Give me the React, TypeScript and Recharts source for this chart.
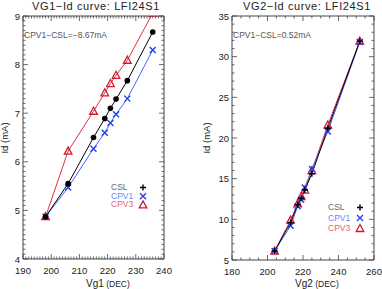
import { LineChart, Line, XAxis, YAxis, Customized } from 'recharts';

// VG1 sweep
const vg1 = [198, 206, 215, 219, 221, 223, 227, 236];
const vg1Csl = [4.87, 5.55, 6.5, 6.89, 7.1, 7.29, 7.67, 8.67];
const vg1Cpv1 = [4.87, 5.47, 6.27, 6.6, 6.8, 6.98, 7.3, 8.3];
const vg1Cpv3 = [4.87, 6.22, 7.04, 7.42, 7.61, 7.78, 8.09, 9.06];

// VG2 sweep
const vg2 = [204, 213, 217, 219, 221, 225, 234, 252];
const vg2Csl = [6.1, 9.6, 11.8, 12.6, 13.6, 15.6, 21.2, 31.9];
const vg2Cpv1 = [6.1, 9.2, 11.6, 12.4, 13.9, 16.2, 20.8, 31.8];
const vg2Cpv3 = [6.1, 9.9, 11.9, 12.8, 13.6, 16.0, 21.6, 31.9];

const vg1XTicks = Array.from({ length: 51 }, (_, i) => 190 + i);
const vg1XLabels = [190, 200, 210, 220, 230, 240];
const vg1YTicks = Array.from({ length: 51 }, (_, i) => Math.round((4 + i * 0.1) * 10) / 10);
const vg1YLabels = [4, 5, 6, 7, 8, 9];
const vg2XTicks = Array.from({ length: 17 }, (_, i) => 180 + i * 5);
const vg2XLabels = [180, 200, 220, 240, 260];
const vg2YTicks = Array.from({ length: 31 }, (_, i) => 5 + i);
const vg2YLabels = [5, 10, 15, 20, 25, 30, 35];

const FONT = '"Liberation Sans", Arial, sans-serif';
const AXIS = '#444';
const BLUE_LINE = '#4a64ff';
const RED_LINE = '#e0303e';
const BLUE_MK = '#2040f0';
const RED_MK = '#d01830';

const zip = (xs: number[], a: number[], b: number[], c: number[]) =>
  xs.map((x, i) => ({ x, csl: a[i], cpv1: b[i], cpv3: c[i] }));

const data1 = zip(vg1, vg1Csl, vg1Cpv1, vg1Cpv3);
const data2 = zip(vg2, vg2Csl, vg2Cpv1, vg2Cpv3);

function makeTick(side: 'bottom' | 'top' | 'left' | 'right', labels: number[], showLabel: boolean) {
  return (props: any) => {
    const { x, y, payload } = props;
    const v = payload.value;
    const major = labels.includes(v);
    const len = major ? 5 : 2.5;
    let line;
    if (side === 'bottom') line = <line x1={x} x2={x} y1={y} y2={y - len} />;
    else if (side === 'top') line = <line x1={x} x2={x} y1={y} y2={y + len} />;
    else if (side === 'left') line = <line x1={x} x2={x + len} y1={y} y2={y} />;
    else line = <line x1={x} x2={x - len} y1={y} y2={y} />;
    return (
      <g stroke={AXIS} strokeWidth={0.8}>
        {line}
        {showLabel && major && side === 'bottom' && (
          <text x={x} y={y + 15} textAnchor="middle" stroke="none" fill="#222" fontSize={9.5} fontFamily={FONT}>
            {v}
          </text>
        )}
        {showLabel && major && side === 'left' && (
          <text x={x - 3} y={y + 3.5} textAnchor="end" stroke="none" fill="#222" fontSize={9.5} fontFamily={FONT}>
            {v}
          </text>
        )}
      </g>
    );
  };
}

const Circle = (p: any) => <circle key={p.key} cx={p.cx} cy={p.cy} r={2.8} fill="#000" />;
const Plus = (p: any) => (
  <path key={p.key} d={`M${p.cx - 3},${p.cy}h6M${p.cx},${p.cy - 3}v6`} stroke="#000" strokeWidth={1.4} />
);
const Cross = (p: any) => (
  <path
    key={p.key}
    d={`M${p.cx - 3},${p.cy - 3}l6,6M${p.cx - 3},${p.cy + 3}l6,-6`}
    stroke={BLUE_MK}
    strokeWidth={1.4}
    fill="none"
  />
);
const Tri = (p: any) => (
  <path
    key={p.key}
    d={`M${p.cx},${p.cy - 4}L${p.cx + 3.8},${p.cy + 3}L${p.cx - 3.8},${p.cy + 3}Z`}
    stroke={RED_MK}
    strokeWidth={1.3}
    fill="none"
  />
);

function LegendBlock({ x, y, gap }: { x: number; y: number; gap: number }) {
  const rows = [
    { name: 'CSL', color: '#666', Mk: Plus },
    { name: 'CPV1', color: '#6f7fff', Mk: Cross },
    { name: 'CPV3', color: '#e8606e', Mk: Tri },
  ];
  return (
    <g>
      {rows.map((r, i) => (
        <g key={r.name}>
          <text x={x} y={y + i * gap + 3} fontSize={8.5} fontFamily={FONT} fill={r.color}>
            {r.name}
          </text>
          {r.Mk({ key: r.name, cx: x + 32, cy: y + i * gap + 0.5 })}
        </g>
      ))}
    </g>
  );
}

function Panel(props: {
  data: any[];
  width: number;
  margin: any;
  xDomain: [number, number];
  yDomain: [number, number];
  xTicks: number[];
  xLabels: number[];
  yTicks: number[];
  yLabels: number[];
  title: string;
  titleX: number;
  xName: string;
  xNameX: number;
  yNameX: number;
  note: string;
  legendX: number;
  legendY: number;
  legendGap: number;
  cslDot: any;
}) {
  const p = props;
  return (
    <LineChart width={p.width} height={289} data={p.data} margin={p.margin}>
      <XAxis
        xAxisId="b"
        dataKey="x"
        type="number"
        domain={p.xDomain}
        ticks={p.xTicks}
        interval={0}
        height={1}
        tickSize={0}
        tickMargin={0}
        stroke={AXIS}
        tick={makeTick('bottom', p.xLabels, true)}
        allowDataOverflow
      />
      <XAxis
        xAxisId="t"
        orientation="top"
        dataKey="x"
        type="number"
        domain={p.xDomain}
        ticks={p.xTicks}
        interval={0}
        height={1}
        tickSize={0}
        tickMargin={0}
        stroke={AXIS}
        tick={makeTick('top', p.xLabels, false)}
        allowDataOverflow
      />
      <YAxis
        yAxisId="l"
        type="number"
        domain={p.yDomain}
        ticks={p.yTicks}
        interval={0}
        width={1}
        tickSize={0}
        tickMargin={0}
        stroke={AXIS}
        tick={makeTick('left', p.yLabels, true)}
        allowDataOverflow
      />
      <YAxis
        yAxisId="r"
        orientation="right"
        type="number"
        domain={p.yDomain}
        ticks={p.yTicks}
        interval={0}
        width={1}
        tickSize={0}
        tickMargin={0}
        stroke={AXIS}
        tick={makeTick('right', p.yLabels, false)}
        allowDataOverflow
      />
      <Line xAxisId="b" yAxisId="l" dataKey="cpv3" stroke={RED_LINE} strokeWidth={1} dot={Tri} isAnimationActive={false} />
      <Line xAxisId="b" yAxisId="l" dataKey="cpv1" stroke={BLUE_LINE} strokeWidth={1} dot={Cross} isAnimationActive={false} />
      <Line xAxisId="b" yAxisId="l" dataKey="csl" stroke="#000" strokeWidth={1} dot={p.cslDot} isAnimationActive={false} />
      <Customized
        component={
          <g fontFamily={FONT}>
            <text x={p.titleX} y={10} textAnchor="middle" fontSize={11} fill="#222" letterSpacing={0.6}>
              {p.title}
            </text>
            <text x={p.xNameX} y={287} fontSize={10} fill="#222">
              {p.xName}
              <tspan fontSize={8.5}> (DEC)</tspan>
            </text>
            <text
              transform={`translate(${p.yNameX},138) rotate(-90)`}
              textAnchor="middle"
              fontSize={9.5}
              fill="#222"
            >
              Id (mA)
            </text>
            <text x={p.margin.left + 2} y={38} fontSize={8.5} fill="#555">
              {p.note}
            </text>
            <LegendBlock x={p.legendX} y={p.legendY} gap={p.legendGap} />
          </g>
        }
      />
    </LineChart>
  );
}

export default function App() {
  return (
    <div style={{ position: 'absolute', left: 0, top: 0, width: 382, height: 289, background: '#fff', display: 'flex' }}>
      <Panel
        data={data1}
        width={191}
        margin={{ top: 15, right: 26, bottom: 29, left: 22 }}
        xDomain={[190, 240]}
        yDomain={[4, 9]}
        xTicks={vg1XTicks}
        xLabels={vg1XLabels}
        yTicks={vg1YTicks}
        yLabels={vg1YLabels}
        title="VG1−Id curve: LFI24S1"
        titleX={96}
        xName="Vg1"
        xNameX={86}
        yNameX={8}
        note="CPV1−CSL=−8.67mA"
        legendX={111}
        legendY={187}
        legendGap={8.7}
        cslDot={Circle}
      />
      <Panel
        data={data2}
        width={191}
        margin={{ top: 15, right: 7, bottom: 28, left: 40 }}
        xDomain={[180, 260]}
        yDomain={[5, 35]}
        xTicks={vg2XTicks}
        xLabels={vg2XLabels}
        yTicks={vg2YTicks}
        yLabels={vg2YLabels}
        title="VG2−Id curve: LFI24S1"
        titleX={116}
        xName="Vg2"
        xNameX={104}
        yNameX={19}
        note="CPV1−CSL=0.52mA"
        legendX={137}
        legendY={207}
        legendGap={10.5}
        cslDot={Plus}
      />
    </div>
  );
}
